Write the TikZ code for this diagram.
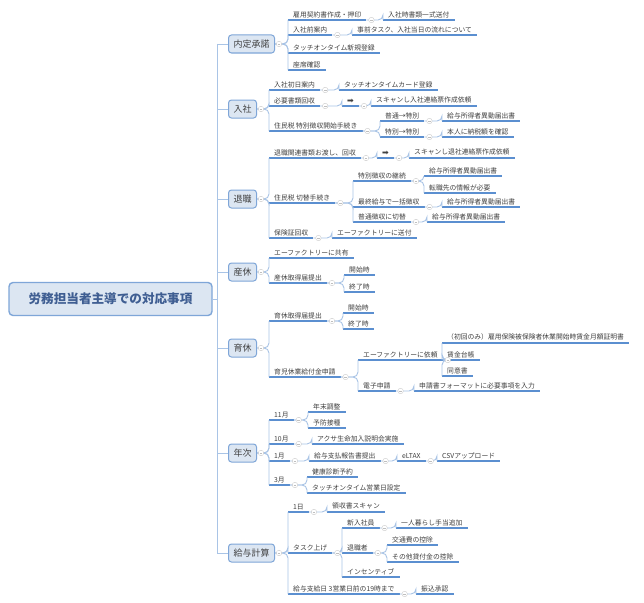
\documentclass[tikz,border=0pt]{standalone}
\usepackage{fontspec}
\setmainfont{Noto Sans CJK JP}
\newfontfamily\symf{DejaVu Sans}
\definecolor{ul}{HTML}{5B8FD0}
\definecolor{cn}{HTML}{A9C4E6}
\definecolor{bxf}{HTML}{DCE6F2}
\definecolor{bxd}{HTML}{7FA6D8}
\definecolor{tx}{HTML}{404040}
\definecolor{rt}{HTML}{3F5E92}
\tikzset{
 leaf/.style={anchor=south west,inner xsep=5pt,inner ysep=2.2pt,font=\fontsize{6.8}{7}\selectfont,text=tx,
   append after command={(\tikzlastnode.south west) edge[draw=ul,line width=1.3pt] (\tikzlastnode.south east)}},
 branch/.style={draw=bxd,fill=bxf,line width=1pt,rounded corners=3pt,font=\fontsize{9}{10}\selectfont,text=tx,minimum height=18pt,inner xsep=5pt},
 root/.style={draw=bxd,fill=bxf,line width=1.4pt,rounded corners=4pt,font=\fontsize{12.6}{14}\bfseries\selectfont,text=rt,minimum height=33pt,minimum width=203pt},
 conn/.style={draw=cn,line width=0.9pt,rounded corners=5pt},
 coll/.style={circle,draw=gray!40,fill=white,inner sep=0pt,minimum size=5.5pt,line width=0.4pt}
}
\newcommand{\lf}[4]{\node[leaf] (#1) at (#2,#3) {#4};}
\newcommand{\cl}[1]{\node[coll] (c#1) at ([xshift=5pt]#1.south east) {}; \draw[gray!50,line width=0.4pt] ([xshift=-1.3pt]c#1.center) -- ([xshift=1.3pt]c#1.center);}
\newcommand{\cb}[1]{\node[coll] (c#1) at ([xshift=4pt]#1.east) {}; \draw[gray!50,line width=0.4pt] ([xshift=-1.3pt]c#1.center) -- ([xshift=1.3pt]c#1.center);}
\newcommand{\lk}[2]{\draw[conn] (#1.south east) -| (#2.south west);}
\newcommand{\bk}[2]{\draw[conn] (#1.east) -| (#2.south west);}
\begin{document}
\begin{tikzpicture}[x=1pt,y=-1pt]
\useasboundingbox[fill=white] (0,0) rectangle (644,602);
\node[root] (R) at (110.5,299) {労務担当者主導での対応事項};
\node[branch,anchor=west] (B1) at (228,44) {内定承諾};
\node[branch,anchor=west] (B2) at (228,109) {入社};
\node[branch,anchor=west] (B3) at (228,199) {退職};
\node[branch,anchor=west] (B4) at (228,272) {産休};
\node[branch,anchor=west] (B5) at (228,348) {育休};
\node[branch,anchor=west] (B6) at (228,453) {年次};
\node[branch,anchor=west] (B7) at (228,553) {給与計算};
% 内定承諾
\lf{a1}{288}{20}{雇用契約書作成・押印}
\lf{a1c}{383}{20}{入社時書類一式送付}
\lf{a2}{288}{35}{入社前案内}
\lf{a2c}{352}{35}{事前タスク、入社当日の流れについて}
\lf{a3}{288}{53}{タッチオンタイム新規登録}
\lf{a4}{288}{70}{座席確認}
% 入社
\lf{b1}{269}{90}{入社初日案内}
\lf{b1c}{339}{90}{タッチオンタイムカード登録}
\lf{b2}{269}{106}{必要書類回収}
\node[leaf,font=\fontsize{8}{8}\selectfont] (b2a) at (342,106) {\symf ➡};
\lf{b2b}{371}{106}{スキャンし入社連絡票作成依頼}
\lf{b3}{269}{131}{住民税 特別徴収開始手続き}
\lf{b31}{380}{121}{普通→特別}
\lf{b311}{442}{121}{給与所得者異動届出書}
\lf{b32}{380}{137}{特別→特別}
\lf{b321}{442}{137}{本人に納税額を確認}
% 退職
\lf{c1}{269}{158}{退職関連書類お渡し、回収}
\node[leaf,font=\fontsize{8}{8}\selectfont] (c1a) at (377,158) {\symf ➡};
\lf{c1b}{409}{158}{スキャンし退社連絡票作成依頼}
\lf{c2}{269}{203}{住民税 切替手続き}
\lf{c21}{353}{181}{特別徴収の継続}
\lf{c211}{424}{176}{給与所得者異動届出書}
\lf{c212}{424}{193}{転職先の情報が必要}
\lf{c22}{353}{207}{最終給与で一括徴収}
\lf{c22c}{442}{207}{給与所得者異動届出書}
\lf{c23}{353}{222}{普通徴収に切替}
\lf{c23c}{427}{222}{給与所得者異動届出書}
\lf{c3}{269}{238}{保険証回収}
\lf{c3c}{332}{238}{エーファクトリーに送付}
% 産休
\lf{d1}{269}{258}{エーファクトリーに共有}
\lf{d2}{269}{283}{産休取得届提出}
\lf{d21}{344}{275}{開始時}
\lf{d22}{344}{292}{終了時}
% 育休
\lf{e1}{269}{321}{育休取得届提出}
\lf{e11}{343}{313}{開始時}
\lf{e12}{343}{329}{終了時}
\lf{e2}{269}{377}{育児休業給付金申請}
\lf{e21}{358}{360}{エーファクトリーに依頼}
\lf{e211}{442}{343}{（初回のみ）雇用保険被保険者休業開始時賃金月額証明書}
\lf{e212}{442}{360}{賃金台帳}
\lf{e213}{442}{376}{同意書}
\lf{e22}{358}{391}{電子申請}
\lf{e22c}{414}{391}{申請書フォーマットに必要事項を入力}
% 年次
\lf{f1}{269}{420}{11月}
\lf{f11}{308}{412}{年末調整}
\lf{f12}{308}{428}{予防接種}
\lf{f2}{269}{444}{10月}
\lf{f2c}{312}{444}{アクサ生命加入説明会実施}
\lf{f3}{269}{461}{1月}
\lf{f3b}{309}{461}{給与支払報告書提出}
\lf{f3c}{397}{461}{eLTAX}
\lf{f3d}{437}{461}{CSVアップロード}
\lf{f4}{269}{485}{3月}
\lf{f41}{307}{477}{健康診断予約}
\lf{f42}{307}{493}{タッチオンタイム営業日設定}
% 給与計算
\lf{g1}{288}{512}{1日}
\lf{g1c}{327}{512}{領収書スキャン}
\lf{g2}{288}{553}{タスク上げ}
\lf{g21}{342}{528}{新入社員}
\lf{g21c}{396}{528}{一人暮らし手当追加}
\lf{g22}{342}{553}{退職者}
\lf{g221}{387}{545}{交通費の控除}
\lf{g222}{387}{562}{その他貸付金の控除}
\lf{g23}{342}{577}{インセンティブ}
\lf{g3}{288}{594}{給与支給日 3営業日前の19時まで}
\lf{g3c}{416}{594}{振込承認}
% trunk
\begin{scope}[conn,rounded corners=0pt]
\draw (R.east) -- (217,299);
\draw (217,44) -- (217,553);
\foreach \b in {B1,B2,B3,B4,B5,B6,B7} \draw (217,0 |- \b.west) -- (\b.west);
\end{scope}
% links
\foreach \c in {a1,a2,a3,a4} {\bk{B1}{\c}}
\foreach \c in {b1,b2,b3} {\bk{B2}{\c}}
\foreach \c in {c1,c2,c3} {\bk{B3}{\c}}
\foreach \c in {d1,d2} {\bk{B4}{\c}}
\foreach \c in {e1,e2} {\bk{B5}{\c}}
\foreach \c in {f1,f2,f3,f4} {\bk{B6}{\c}}
\foreach \c in {g1,g2,g3} {\bk{B7}{\c}}
\lk{a1}{a1c} \lk{a2}{a2c} \lk{b1}{b1c} \lk{b2}{b2a} \lk{b2a}{b2b}
\lk{b3}{b31} \lk{b3}{b32} \lk{b31}{b311} \lk{b32}{b321}
\lk{c1}{c1a} \lk{c1a}{c1b} \lk{c2}{c21} \lk{c2}{c22} \lk{c2}{c23}
\lk{c21}{c211} \lk{c21}{c212} \lk{c22}{c22c} \lk{c23}{c23c} \lk{c3}{c3c}
\lk{d2}{d21} \lk{d2}{d22}
\lk{e1}{e11} \lk{e1}{e12} \lk{e2}{e21} \lk{e2}{e22}
\lk{e21}{e211} \lk{e21}{e212} \lk{e21}{e213} \lk{e22}{e22c}
\lk{f1}{f11} \lk{f1}{f12} \lk{f2}{f2c} \lk{f3}{f3b} \lk{f3b}{f3c} \lk{f3c}{f3d}
\lk{f4}{f41} \lk{f4}{f42}
\lk{g1}{g1c} \lk{g2}{g21} \lk{g2}{g22} \lk{g2}{g23} \lk{g21}{g21c}
\lk{g22}{g221} \lk{g22}{g222} \lk{g3}{g3c}
% collapse marks
\foreach \b in {B1,B2,B3,B4,B5,B6,B7} {\cb{\b}}
\foreach \p in {a1,a2,b1,b2,b2a,b3,b31,b32,c1,c1a,c2,c21,c22,c23,c3,d2,e1,e2,e21,e22,f1,f2,f3,f3b,f3c,f4,g1,g2,g21,g22,g3} {\cl{\p}}
\end{tikzpicture}
\end{document}
